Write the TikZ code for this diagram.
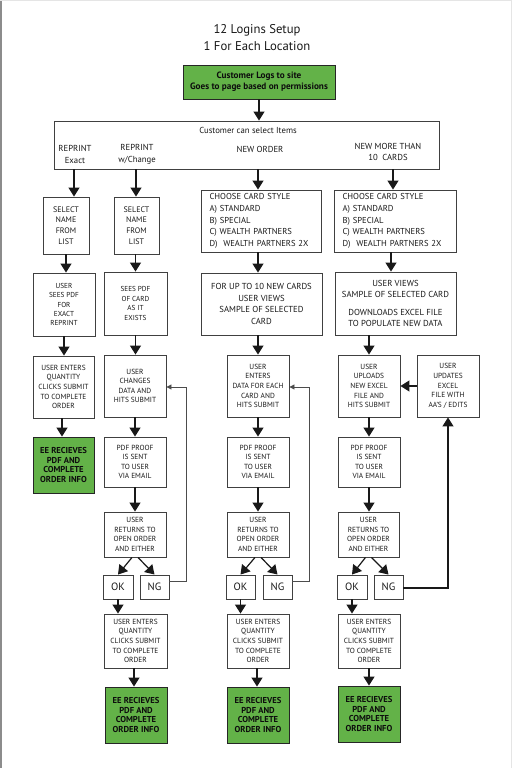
\documentclass[tikz,border=0pt]{standalone}
\usepackage{fontspec}
\setmainfont{PT Sans}
\usetikzlibrary{arrows.meta,calc}
\definecolor{grn}{RGB}{99,178,72}
\newcommand\fS{\fontsize{7.4}{9.6}\selectfont}
\newcommand\fP{\fontsize{7.2}{9.4}\selectfont}
\newcommand\fL{\fontsize{8}{10.8}\selectfont}
\newcommand\fM{\fontsize{8.7}{11.5}\selectfont}
\newcommand\fC{\fontsize{8.6}{11.7}\selectfont}
\newcommand\fT{\fontsize{12.7}{17}\selectfont}
\newcommand\fG{\fontsize{9.2}{11}\selectfont\bfseries}
\newcommand\fB{\fontsize{8.6}{9.6}\selectfont\bfseries}
\newcommand\fO{\fontsize{10.6}{12}\selectfont}
\begin{document}
\begin{tikzpicture}[x=1pt,y=-1pt,
  box/.style={draw=black!75, line width=0.9pt, fill=white, align=center, inner sep=0pt, text=black!90},
  gbox/.style={draw=black!85, line width=0.9pt, fill=grn, align=center, inner sep=0pt, text=black!95},
  bx/.style 2 args={minimum width=#1pt, minimum height=#2pt},
  lbl/.style={align=center, inner sep=0pt, text=black!90},
  con/.style={line width=1.2pt, draw=black!90, -{Triangle[width=11pt,length=9pt]}},
  fb/.style={line width=0.9pt, draw=black!70, -{Triangle[width=5pt,length=5pt]}}]
\useasboundingbox (0,0) rectangle (512,768);
\fill[white] (0,0) rectangle (512,768);
\draw[black!45, line width=2pt] (1,0) -- (1,768);
\draw[black!10, line width=1pt] (0,0.5) -- (512,0.5);
\draw[black!10, line width=1pt] (511.5,0) -- (511.5,768);

% title
\node[lbl, font=\fT] (title) at (257,37.5) {12 Logins Setup\\1 For Each Location};

% top
\node[gbox, bx={152}{34}, font=\fG] (top) at (259,82) {Customer Logs to site\\Goes to page based on permissions};
\node[box, bx={385}{48}] (sel) at (246.5,145) {};
\node[lbl, font=\fM] (selt) at (248,130.5) {Customer can select Items};
\node[lbl, font=\fM] (optA) at (75,154.5) {REPRINT\\Exact};
\node[lbl, font=\fM] (optB) at (137,154.5) {REPRINT\\w/Change};
\node[lbl, font=\fM] (optC) at (260,149) {NEW ORDER};
\node[lbl, font=\fM] (optD) at (388,152) {NEW MORE THAN\\10\ \ CARDS};
\draw[con] (top.south) -- (top.south |- sel.north);

% column coordinates
\coordinate (x1) at (74,0);
\coordinate (x2) at (136,0);
\coordinate (x3) at (258,0);
\coordinate (x4) at (393,0);

% column 1
\node[box, bx={46}{57}, font=\fL] (s1) at (66,225.5) {SELECT\\NAME\\FROM\\LIST};
\node[box, bx={62}{63}, font=\fP] (p1) at (64,304.5) {USER\\SEES PDF\\FOR\\EXACT\\REPRINT};
\node[box, bx={61}{62}, font=\fS] (q1) at (63.5,387) {USER ENTERS\\QUANTITY\\CLICKS SUBMIT\\TO COMPLETE\\ORDER};
\node[gbox, bx={61}{56}, font=\fB] (g1) at (63.5,465) {EE RECIEVES\\PDF AND\\COMPLETE\\ORDER INFO};
\draw[con] (sel.south -| x1) -- (s1.north -| x1);
\draw[con] (s1.south) -- (s1.south |- p1.north);
\draw[con] (p1.south) -- (p1.south |- q1.north);
\draw[con] ([xshift=-1.5pt]q1.south) -- ([xshift=-1.5pt]g1.north);

% column 2
\node[box, bx={45}{57}, font=\fL] (s2) at (136.5,225.5) {SELECT\\NAME\\FROM\\LIST};
\node[box, bx={63}{63}, font=\fP] (p2) at (135.5,303.5) {SEES PDF\\OF CARD\\AS IT\\EXISTS};
\node[box, bx={62}{62}, font=\fS] (c2) at (135,386) {USER\\CHANGES\\DATA AND\\HITS SUBMIT};
\node[box, bx={62}{50}, font=\fS] (f2) at (135,462) {PDF PROOF\\IS SENT\\TO USER\\VIA EMAIL};
\node[box, bx={62}{45}, font=\fS] (r2) at (135,534.5) {USER\\RETURNS TO\\OPEN ORDER\\AND EITHER};
\node[box, bx={30}{24}, font=\fO] (ok2) at (118,587) {OK};
\node[box, bx={29}{24}, font=\fO] (ng2) at (154.5,587) {NG};
\node[box, bx={63}{54}, font=\fS] (qt2) at (135.5,641) {USER ENTERS\\QUANTITY\\CLICKS SUBMIT\\TO COMPLETE\\ORDER};
\node[gbox, bx={62}{56}, font=\fB] (g2) at (136,715) {EE RECIEVES\\PDF AND\\COMPLETE\\ORDER INFO};
\draw[con] (sel.south -| x2) -- (s2.north -| x2);
\draw[con] ([xshift=-1pt]s2.south) -- ([xshift=-1pt]s2.south |- p2.north);
\draw[con] (p2.south) -- (p2.south |- c2.north);
\draw[con] (c2.south) -- (f2.north);
\draw[con] (f2.south) -- (r2.north);
\draw[con] ([xshift=-3pt]r2.south) -- (ok2.north);
\draw[con] ([xshift=3pt]r2.south) -- (ng2.north);
\draw[con] (ok2.south) -- (ok2.south |- qt2.north);
\draw[con] ([xshift=-1.5pt]qt2.south) -- ([xshift=-1.5pt]qt2.south |- g2.north);
\coordinate (fb2) at (186,387);
\draw[fb] ([yshift=6pt]ng2.east) -| (fb2) -- (fb2 -| c2.east);

% column 3
\node[box, bx={120}{62}, font=\fC, align=left, text width=103pt] (ch3) at (261,221) {CHOOSE CARD STYLE\\A) STANDARD\\B) SPECIAL\\C) WEALTH PARTNERS\\D)\ \ WEALTH PARTNERS 2X};
\node[box, bx={121}{62}, font=\fM] (u3) at (261.5,304) {FOR UP TO 10 NEW CARDS\\USER VIEWS\\SAMPLE OF SELECTED\\CARD};
\node[box, bx={62}{62}, font=\fS] (e3) at (258,386) {USER\\ENTERS\\DATA FOR EACH\\CARD AND\\HITS SUBMIT};
\node[box, bx={62}{50}, font=\fS] (f3) at (258,462) {PDF PROOF\\IS SENT\\TO USER\\VIA EMAIL};
\node[box, bx={62}{45}, font=\fS] (r3) at (258,534.5) {USER\\RETURNS TO\\OPEN ORDER\\AND EITHER};
\node[box, bx={29}{24}, font=\fO] (ok3) at (240.5,587) {OK};
\node[box, bx={29}{24}, font=\fO] (ng3) at (277.5,587) {NG};
\node[box, bx={62}{54}, font=\fS] (qt3) at (258,641) {USER ENTERS\\QUANTITY\\CLICKS SUBMIT\\TO COMPLETE\\ORDER};
\node[gbox, bx={62}{56}, font=\fB] (g3) at (258,715) {EE RECIEVES\\PDF AND\\COMPLETE\\ORDER INFO};
\draw[con] (sel.south -| x3) -- (ch3.north -| x3);
\draw[con] (ch3.south -| x3) -- (u3.north -| x3);
\draw[con] (u3.south -| e3) -- (e3.north);
\draw[con] (e3.south) -- (f3.north);
\draw[con] (f3.south) -- (r3.north);
\draw[con] ([xshift=-3pt]r3.south) -- (ok3.north);
\draw[con] ([xshift=3pt]r3.south) -- (ng3.north);
\draw[con] (ok3.south) -- (ok3.south |- qt3.north);
\draw[con] ([xshift=-1pt]qt3.south) -- ([xshift=-1pt]g3.north);
\coordinate (fb3) at (309,387);
\draw[fb] ([yshift=6pt]ng3.east) -| (fb3) -- (fb3 -| e3.east);

% column 4
\node[box, bx={122}{62}, font=\fC, align=left, text width=105pt] (ch4) at (395,221) {CHOOSE CARD STYLE\\A) STANDARD\\B) SPECIAL\\C) WEALTH PARTNERS\\D)\ \ WEALTH PARTNERS 2X};
\node[box, bx={121}{63}, font=\fM] (u4) at (395.5,303.5) {USER VIEWS\\SAMPLE OF SELECTED CARD\\[6pt]DOWNLOADS EXCEL FILE\\TO POPULATE NEW DATA};
\node[box, bx={62}{62}, font=\fS] (up4) at (369,386) {USER\\UPLOADS\\NEW EXCEL\\FILE AND\\HITS SUBMIT};
\node[box, bx={62}{62}, font=\fS] (ud4) at (448,386) {USER\\UPDATES\\EXCEL\\FILE WITH\\AA'S / EDITS};
\node[box, bx={62}{50}, font=\fS] (f4) at (369,462) {PDF PROOF\\IS SENT\\TO USER\\VIA EMAIL};
\node[box, bx={61}{45}, font=\fS] (r4) at (368.5,534.5) {USER\\RETURNS TO\\OPEN ORDER\\AND EITHER};
\node[box, bx={30}{24}, font=\fO] (ok4) at (352,587) {OK};
\node[box, bx={29}{24}, font=\fO] (ng4) at (388.5,587) {NG};
\node[box, bx={62}{54}, font=\fS] (qt4) at (369,641) {USER ENTERS\\QUANTITY\\CLICKS SUBMIT\\TO COMPLETE\\ORDER};
\node[gbox, bx={62}{56}, font=\fB] (g4) at (369,714) {EE RECIEVES\\PDF AND\\COMPLETE\\ORDER INFO};
\draw[con] (sel.south -| x4) -- (ch4.north -| x4);
\draw[con] ([xshift=-4pt]ch4.south) -- ([xshift=-4pt]ch4.south |- u4.north);
\draw[con] (u4.south -| up4) -- (up4.north);
\draw[con] (ud4.west) -- (up4.east);
\draw[con] (up4.south) -- (f4.north);
\draw[con] (f4.south) -- (f4.south |- r4.north);
\draw[con] ([xshift=-3pt]r4.south) -- (ok4.north);
\draw[con] ([xshift=3pt]r4.south) -- (ng4.north);
\draw[con] (ok4.south) -- (ok4.south |- qt4.north);
\draw[con] (qt4.south) -- (g4.north);
\draw[con] ([yshift=-1pt]ng4.east) -| (ud4.south);
\end{tikzpicture}
\end{document}
